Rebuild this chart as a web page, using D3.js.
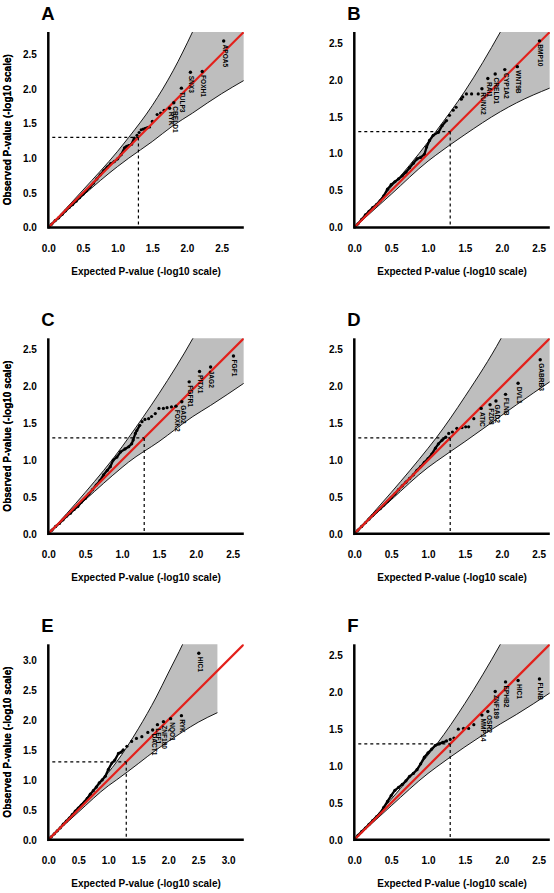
<!DOCTYPE html>
<html><head><meta charset="utf-8">
<script src="https://cdn.jsdelivr.net/npm/d3@7"></script>
<style>
html,body{margin:0;padding:0;background:#fff;}
svg{display:block;font-family:"Liberation Sans",Arial,Helvetica,sans-serif;}
</style></head>
<body><svg id="chart" width="554" height="893"></svg>
<script>
// ---------- data ----------
const panelIds = ["A","B","C","D","E","F"];
const axisMax = [2.82, 2.65, 2.65, 2.65, 3.26, 2.65];
const tickValsStd = [0,0.5,1.0,1.5,2.0,2.5];
const tickValsE = [0,0.5,1.0,1.5,2.0,2.5,3.0];
const sigLine = 1.3;

// Panel A
const expA = [0,0.05,0.1,0.15,0.2,0.25,0.3,0.35,0.4,0.45,0.5,0.55,0.6,0.65,0.7,0.75,0.8,0.85,0.9,0.95,1.0,1.05,1.1,1.13,1.16,1.2,1.24,1.28,1.31,1.34,1.37,1.4,1.43,1.46,1.5,1.57,1.62,1.67];
const obsA = [0,0.05,0.1,0.14,0.19,0.24,0.29,0.33,0.38,0.43,0.48,0.53,0.58,0.64,0.7,0.76,0.82,0.87,0.92,0.95,0.99,1.05,1.15,1.17,1.18,1.2,1.29,1.33,1.37,1.41,1.42,1.43,1.44,1.45,1.53,1.63,1.65,1.69];
const labExpA = [1.75,1.81,1.92,2.05,2.22,2.53];
const labObsA = [1.72,1.80,2.01,2.24,2.25,2.69];
const genesA = ["RYK","CRELD1","TULP3","SNX3","FOXH1","APOA5"];
const bandXA  = [0,0.5,1.0,1.16,1.5,1.8,2.08,2.3,2.5,2.82];
const bandUpA = [0,0.54,1.10,1.30,1.76,2.26,2.82,3.3,3.8,4.6];
const bandLoA = [0,0.46,0.88,1.0,1.24,1.47,1.65,1.80,1.93,2.12];

// Panel B
const expB = [0,0.05,0.1,0.15,0.2,0.25,0.3,0.35,0.4,0.45,0.5,0.55,0.6,0.65,0.7,0.75,0.8,0.85,0.9,0.95,0.98,1.02,1.07,1.14,1.19,1.25,1.29,1.34,1.38,1.45,1.47,1.52,1.59,1.68];
const obsB = [0,0.05,0.11,0.17,0.22,0.27,0.31,0.36,0.43,0.52,0.58,0.62,0.66,0.7,0.75,0.81,0.87,0.93,0.95,0.99,1.09,1.18,1.25,1.29,1.38,1.45,1.52,1.59,1.63,1.74,1.77,1.81,1.81,1.81];
const labExpB = [1.73,1.81,1.91,2.04,2.21,2.51];
const labObsB = [1.88,2.02,2.08,2.14,2.18,2.53];
const genesB = ["RUNX2","RAI1","CRELD1","CYP1A2","WNT9B","BMP10"];
const bandXB  = [0,0.5,1.0,1.105,1.5,1.98,2.2,2.65];
const bandUpB = [0,0.55,1.16,1.30,1.85,2.65,3.05,3.9];
const bandLoB = [0,0.45,0.9,0.98,1.26,1.57,1.69,1.89];

// Panel C
const expC = [0,0.05,0.1,0.15,0.2,0.25,0.3,0.35,0.4,0.45,0.5,0.55,0.6,0.65,0.7,0.75,0.8,0.84,0.88,0.93,0.98,1.04,1.09,1.13,1.15,1.18,1.2,1.24,1.27,1.31,1.36,1.4,1.45,1.5,1.56,1.61,1.67];
const obsC = [0,0.05,0.1,0.14,0.19,0.24,0.28,0.33,0.37,0.43,0.48,0.54,0.6,0.66,0.72,0.8,0.86,0.91,1.0,1.04,1.11,1.15,1.18,1.22,1.27,1.36,1.4,1.47,1.52,1.55,1.56,1.59,1.63,1.7,1.7,1.71,1.72];
const labExpC = [1.73,1.81,1.91,2.05,2.20,2.51];
const labObsC = [1.73,1.79,2.06,2.20,2.26,2.41];
const genesC = ["FOXK2","GAD2","FGFR1","PITX1","JAG2","FGF1"];
const bandXC  = [0,0.5,1.0,1.086,1.5,1.96,2.2,2.65];
const bandUpC = [0,0.56,1.18,1.30,1.9,2.65,3.1,3.9];
const bandLoC = [0,0.46,0.9,0.97,1.25,1.59,1.74,2.04];

// Panel D
const expD = [0,0.05,0.1,0.15,0.2,0.25,0.3,0.35,0.4,0.45,0.5,0.55,0.6,0.65,0.7,0.75,0.8,0.85,0.9,0.95,1.0,1.05,1.1,1.14,1.19,1.24,1.28,1.33,1.39,1.46,1.51,1.55,1.62];
const obsD = [0,0.05,0.1,0.15,0.2,0.25,0.3,0.34,0.39,0.44,0.49,0.54,0.6,0.65,0.7,0.75,0.8,0.86,0.91,0.97,1.02,1.08,1.16,1.22,1.27,1.31,1.36,1.38,1.43,1.44,1.45,1.45,1.56];
const labExpD = [1.72,1.84,1.92,2.05,2.22,2.52];
const labObsD = [1.70,1.75,1.80,1.89,2.04,2.36];
const genesD = ["ATIC","FZD8","GAD2","FLNB","DVL1","GABRB3"];
const bandXD  = [0,0.5,1.0,1.11,1.5,1.99,2.2,2.65];
const bandUpD = [0,0.56,1.16,1.30,1.86,2.65,3.05,3.9];
const bandLoD = [0,0.46,0.9,0.98,1.25,1.6,1.75,2.06];

// Panel E
const expE = [0,0.05,0.1,0.15,0.2,0.25,0.3,0.35,0.4,0.45,0.5,0.55,0.6,0.65,0.7,0.75,0.8,0.85,0.9,0.95,1.0,1.06,1.11,1.17,1.21,1.25,1.31,1.39,1.47,1.56,1.66];
const obsE = [0,0.05,0.1,0.15,0.2,0.26,0.31,0.36,0.42,0.48,0.53,0.58,0.63,0.69,0.76,0.82,0.88,0.95,1.0,1.06,1.17,1.28,1.33,1.44,1.46,1.5,1.56,1.64,1.69,1.72,1.79];
const labExpE = [1.74,1.82,1.92,2.04,2.22,2.51];
const labObsE = [1.83,1.92,1.97,2.02,2.07,3.11];
const genesE = ["DACT1","LEF1","ZNF180","NQO1","RYK","HIC1"];
const bandXE  = [0,0.5,1.0,1.14,1.5,1.8,2.0,2.24,2.5,2.82];
const bandUpE = [0,0.54,1.12,1.30,1.85,2.38,2.78,3.26,3.85,4.6];
const bandLoE = [0,0.46,0.9,1.0,1.27,1.5,1.64,1.80,1.96,2.12];

// Panel F
const expF = [0,0.05,0.1,0.15,0.2,0.25,0.3,0.35,0.4,0.45,0.5,0.55,0.6,0.65,0.7,0.75,0.8,0.85,0.9,0.95,1.0,1.05,1.1,1.15,1.2,1.25,1.3,1.35,1.41,1.48,1.55,1.62];
const obsF = [0,0.06,0.11,0.16,0.21,0.26,0.31,0.36,0.44,0.52,0.6,0.67,0.71,0.75,0.8,0.86,0.9,0.95,1.03,1.12,1.18,1.23,1.28,1.3,1.32,1.34,1.36,1.38,1.5,1.51,1.51,1.56];
const labExpF = [1.73,1.81,1.91,2.05,2.22,2.51];
const labObsF = [1.69,1.74,2.01,2.14,2.16,2.18];
const genesF = ["MMP14","OSR2","ZNF189","EPHB2","HIC1","FLNB"];
const bandXF  = [0,0.5,1.0,1.12,1.5,1.98,2.2,2.65];
const bandUpF = [0,0.55,1.15,1.30,1.85,2.65,3.05,3.9];
const bandLoF = [0,0.46,0.9,0.99,1.26,1.57,1.7,1.99];

const xTitle = "Expected P-value (-log10 scale)";
const yTitle = "Observed P-value (-log10 scale)";

// ---------- assemble ----------
const panels = [
  {exp:expA, obs:obsA, lx:labExpA, ly:labObsA, genes:genesA, bx:bandXA, bu:bandUpA, bl:bandLoA},
  {exp:expB, obs:obsB, lx:labExpB, ly:labObsB, genes:genesB, bx:bandXB, bu:bandUpB, bl:bandLoB},
  {exp:expC, obs:obsC, lx:labExpC, ly:labObsC, genes:genesC, bx:bandXC, bu:bandUpC, bl:bandLoC},
  {exp:expD, obs:obsD, lx:labExpD, ly:labObsD, genes:genesD, bx:bandXD, bu:bandUpD, bl:bandLoD},
  {exp:expE, obs:obsE, lx:labExpE, ly:labObsE, genes:genesE, bx:bandXE, bu:bandUpE, bl:bandLoE},
  {exp:expF, obs:obsF, lx:labExpF, ly:labObsF, genes:genesF, bx:bandXF, bu:bandUpF, bl:bandLoF}
];

// layout
const colLeft = [48.3, 354.3];
const rowTop = [32, 338.3, 644.3];
const plotW = 195.5, plotH = 195.5;

const svg = d3.select("#chart");
const defs = svg.append("defs");

panels.forEach((p, i) => {
  const left = colLeft[i % 2], top = rowTop[Math.floor(i / 2)];
  const maxV = axisMax[i];
  const x = d3.scaleLinear().domain([0, maxV]).range([0, plotW]);
  const y = d3.scaleLinear().domain([0, maxV]).range([plotH, 0]);
  const g = svg.append("g").attr("transform", `translate(${left},${top})`);
  const cid = "clip" + panelIds[i];
  defs.append("clipPath").attr("id", cid).append("rect")
    .attr("x", 0).attr("y", 0).attr("width", plotW).attr("height", plotH);
  const inner = g.append("g").attr("clip-path", `url(#${cid})`);

  // confidence band
  const band = p.bx.map((v, k) => ({x: v, u: p.bu[k], l: p.bl[k]}));
  inner.append("path").datum(band)
    .attr("d", d3.area().x(d => x(d.x)).y0(d => y(d.l)).y1(d => y(d.u)).curve(d3.curveMonotoneX))
    .attr("fill", "#bebebe").attr("stroke", "none");
  ["u", "l"].forEach(k => {
    inner.append("path").datum(band)
      .attr("d", d3.line().x(d => x(d.x)).y(d => y(d[k])).curve(d3.curveMonotoneX))
      .attr("fill", "none").attr("stroke", "#000").attr("stroke-width", 0.9);
  });

  // dense run of points drawn as a chunky trace
  const pts = p.exp.map((v, k) => ({x: v, y: p.obs[k]}));
  inner.append("path").datum(pts.filter(d => d.x <= 1.25))
    .attr("d", d3.line().x(d => x(d.x)).y(d => y(d.y)))
    .attr("fill", "none").attr("stroke", "#000").attr("stroke-width", 2.3)
    .attr("stroke-linejoin", "round");
  inner.selectAll("circle.pt").data(pts).join("circle").attr("class", "pt")
    .attr("cx", d => x(d.x)).attr("cy", d => y(d.y)).attr("r", 1.6).attr("fill", "#000");

  // diagonal reference
  inner.append("line")
    .attr("x1", x(0)).attr("y1", y(0)).attr("x2", x(maxV)).attr("y2", y(maxV))
    .attr("stroke", "#e3201b").attr("stroke-width", 2.2);

  // labelled top points
  const lab = p.lx.map((v, k) => ({x: v, y: p.ly[k], g: p.genes[k]}));
  inner.selectAll("circle.lab").data(lab).join("circle").attr("class", "lab")
    .attr("cx", d => x(d.x)).attr("cy", d => y(d.y)).attr("r", 1.7).attr("fill", "#000");
  g.selectAll("text.gene").data(lab).join("text").attr("class", "gene")
    .attr("transform", d => `translate(${x(d.x) + 1.2},${y(d.y) + 3.5}) rotate(90)`)
    .attr("dy", "0.35em").attr("text-anchor", "start")
    .attr("font-size", 6.6).attr("font-weight", "bold").attr("fill", "#000").text(d => d.g);

  // significance guides
  g.append("line").attr("x1", x(0) + 4).attr("x2", x(sigLine)).attr("y1", y(sigLine)).attr("y2", y(sigLine))
    .attr("stroke", "#000").attr("stroke-width", 1.2).attr("stroke-dasharray", "3,3");
  g.append("line").attr("x1", x(sigLine)).attr("x2", x(sigLine)).attr("y1", y(sigLine)).attr("y2", y(0))
    .attr("stroke", "#000").attr("stroke-width", 1.2).attr("stroke-dasharray", "3,3");

  // axes
  const ticks = i === 4 ? tickValsE : tickValsStd;
  const xa = g.append("g").attr("transform", `translate(0,${plotH})`)
    .call(d3.axisBottom(x).tickValues(ticks).tickFormat(d3.format(".1f")).tickSize(0).tickPadding(17));
  const ya = g.append("g")
    .call(d3.axisLeft(y).tickValues(ticks).tickFormat(d3.format(".1f")).tickSize(0).tickPadding(11.5));
  [xa, ya].forEach(a => {
    a.select(".domain").remove();
    a.selectAll("text").attr("font-size", 10).attr("font-weight", "bold")
      .attr("font-family", "'Liberation Sans',Arial,sans-serif").attr("fill", "#000");
  });
  g.append("line").attr("x1", 0).attr("x2", plotW).attr("y1", plotH).attr("y2", plotH)
    .attr("stroke", "#000").attr("stroke-width", 2.5);
  g.append("line").attr("x1", 0).attr("x2", 0).attr("y1", 0).attr("y2", plotH + 1.25)
    .attr("stroke", "#000").attr("stroke-width", 2.5);

  // titles
  g.append("text").attr("x", plotW / 2).attr("y", plotH + 47.5).attr("text-anchor", "middle")
    .attr("font-size", 10).attr("font-weight", "bold").text(xTitle);
  g.append("text").attr("transform", `translate(${10.5 - left},${plotH / 2}) rotate(-90)`)
    .attr("text-anchor", "middle").attr("font-size", 10).attr("font-weight", "bold").text(yTitle);
  g.append("text").attr("x", -7).attr("y", -12.3).attr("font-size", 18.5).attr("font-weight", "bold")
    .text(panelIds[i]);
});
</script></body></html>
